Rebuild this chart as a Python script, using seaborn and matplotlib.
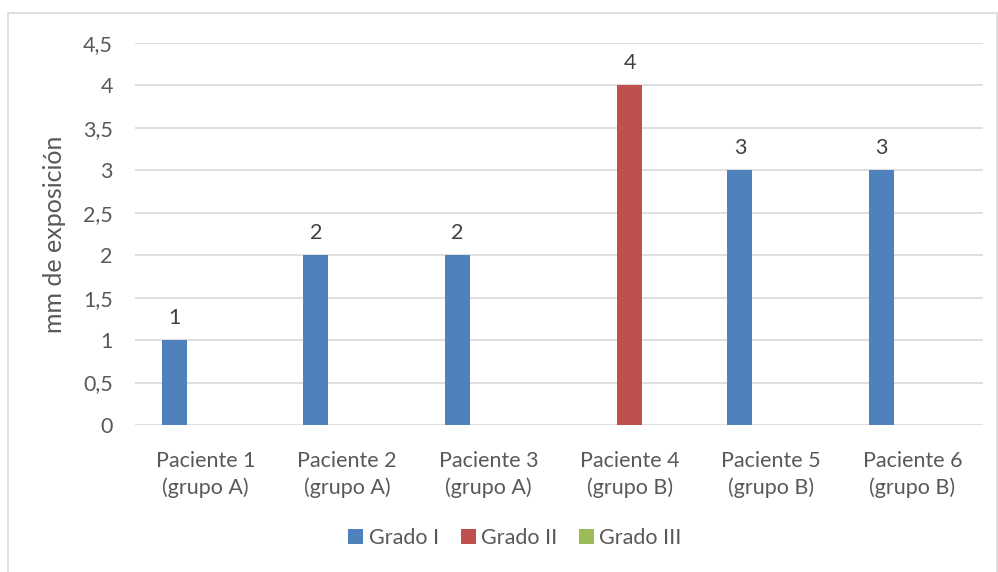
import matplotlib
matplotlib.use("Agg")
import matplotlib.pyplot as plt
import seaborn as sns
import pandas as pd
from matplotlib.patches import Rectangle

# Data
pacientes = ["Paciente 1\n(grupo A)", "Paciente 2\n(grupo A)", "Paciente 3\n(grupo A)",
             "Paciente 4\n(grupo B)", "Paciente 5\n(grupo B)", "Paciente 6\n(grupo B)"]
grados = ["Grado I", "Grado II", "Grado III"]
grado_i = [1, 2, 2, 0, 3, 3]
grado_ii = [0, 0, 0, 4, 0, 0]
grado_iii = [0, 0, 0, 0, 0, 0]
colores = ["#4F81BD", "#C0504D", "#9BBB59"]
yticks = [0, 0.5, 1, 1.5, 2, 2.5, 3, 3.5, 4, 4.5]

rows = []
for serie, vals in zip(grados, [grado_i, grado_ii, grado_iii]):
    for p, v in zip(pacientes, vals):
        rows.append({"paciente": p, "grado": serie, "mm": v})
df = pd.DataFrame(rows)

sns.set_theme(style="white")
plt.rcParams["font.family"] = ["Lato", "DejaVu Sans"]
text_col = "#595959"

fig = plt.figure(figsize=(9.98, 5.72), dpi=100)
ax = fig.add_axes([135 / 998, 1 - 425 / 572, (983 - 135) / 998, (425 - 43) / 572])

sns.barplot(data=df, x="paciente", y="mm", hue="grado", order=pacientes,
            hue_order=grados, palette=colores, saturation=1, width=0.66, gap=0.2,
            linewidth=0, errorbar=None, ax=ax, zorder=3)

ax.set_ylim(0, 4.5)
ax.set_xlim(-0.5, len(pacientes) - 0.5)
ax.set_yticks(yticks)
ax.set_yticklabels([f"{t:g}".replace(".", ",") for t in yticks])
ax.yaxis.grid(True, color="#D9D9D9", linewidth=1.2, zorder=0)
ax.set_axisbelow(True)
for s in ax.spines.values():
    s.set_visible(False)
ax.tick_params(axis="both", length=0, colors=text_col, labelsize=15.5)
ax.tick_params(axis="y", pad=16)
ax.tick_params(axis="x", pad=19)
for lbl in ax.get_xticklabels():
    lbl.set_linespacing(1.35)
ax.set_xlabel("")
ax.set_ylabel("mm de exposición", color=text_col, fontsize=18, labelpad=12)

# Value labels above non-zero bars
for cont in ax.containers:
    labels = [f"{b.get_height():g}" if b.get_height() > 0 else "" for b in cont]
    ax.bar_label(cont, labels=labels, padding=9, color="#404040", fontsize=15.5)

# Legend below the plot
handles, labs = ax.get_legend_handles_labels()
ax.legend(handles, labs, loc="center", bbox_to_anchor=(515 / 998, 1 - 538 / 572),
          bbox_transform=fig.transFigure, ncol=3, frameon=False, fontsize=15.5,
          handlelength=0.7, handleheight=0.7, handletextpad=0.25, columnspacing=1.0,
          labelcolor=text_col)

# Chart area border
fig.patches.append(Rectangle((8 / 998, -0.05), (997 - 8) / 998, 1.05 - 13 / 572,
                             transform=fig.transFigure, fill=False,
                             edgecolor="#D9D9D9", linewidth=1.2))

fig.savefig("out.png", dpi=100)
